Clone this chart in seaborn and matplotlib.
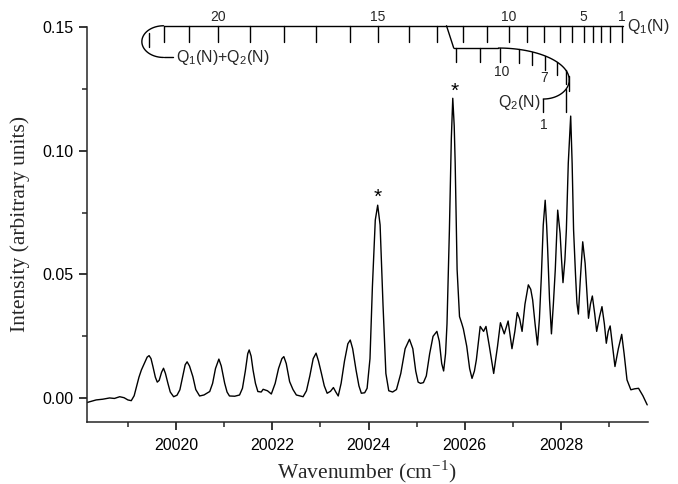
import numpy as np
import pandas as pd
import seaborn as sns
import matplotlib
matplotlib.use("Agg")
import matplotlib.pyplot as plt

# spectrum (wavenumber, intensity)
wavenumber = [
    20018.14, 20018.25, 20018.34, 20018.48, 20018.62, 20018.72, 20018.83, 20018.92,
    20019.00, 20019.07, 20019.13, 20019.18, 20019.23, 20019.28, 20019.34, 20019.40,
    20019.44, 20019.48, 20019.52, 20019.57, 20019.61, 20019.65, 20019.70, 20019.74,
    20019.78, 20019.83, 20019.88, 20019.95, 20020.02, 20020.08, 20020.14, 20020.19,
    20020.23, 20020.28, 20020.35, 20020.41, 20020.49, 20020.58, 20020.70, 20020.76,
    20020.82, 20020.89, 20020.94, 20021.01, 20021.06, 20021.11, 20021.22, 20021.32,
    20021.38, 20021.44, 20021.49, 20021.52, 20021.56, 20021.60, 20021.65, 20021.70,
    20021.77, 20021.81, 20021.84, 20021.90, 20021.98, 20022.06, 20022.13, 20022.20,
    20022.24, 20022.29, 20022.36, 20022.43, 20022.50, 20022.64, 20022.71, 20022.78,
    20022.85, 20022.91, 20022.96, 20023.02, 20023.08, 20023.14, 20023.21, 20023.27,
    20023.32, 20023.37, 20023.43, 20023.50, 20023.57, 20023.62, 20023.67, 20023.74,
    20023.80, 20023.85, 20023.92, 20023.97, 20024.03, 20024.08, 20024.14, 20024.19,
    20024.24, 20024.30, 20024.36, 20024.42, 20024.50, 20024.58, 20024.67, 20024.76,
    20024.85, 20024.92, 20024.98, 20025.03, 20025.08, 20025.14, 20025.20, 20025.27,
    20025.34, 20025.42, 20025.47, 20025.52, 20025.56, 20025.60, 20025.63, 20025.68,
    20025.72, 20025.75, 20025.78, 20025.80, 20025.84, 20025.89, 20025.94, 20025.97,
    20026.04, 20026.10, 20026.15, 20026.20, 20026.24, 20026.32, 20026.39, 20026.44,
    20026.51, 20026.60, 20026.68, 20026.74, 20026.82, 20026.90, 20026.98, 20027.04,
    20027.09, 20027.14, 20027.19, 20027.25, 20027.32, 20027.37, 20027.41, 20027.46,
    20027.51, 20027.55, 20027.59, 20027.63, 20027.67, 20027.70, 20027.72, 20027.76,
    20027.80, 20027.84, 20027.88, 20027.93, 20027.98, 20028.01, 20028.04, 20028.08,
    20028.11, 20028.15, 20028.20, 20028.23, 20028.26, 20028.30, 20028.33, 20028.36,
    20028.40, 20028.45, 20028.50, 20028.54, 20028.57, 20028.61, 20028.65, 20028.70,
    20028.74, 20028.80, 20028.85, 20028.90, 20028.94, 20028.98, 20029.02, 20029.07,
    20029.12, 20029.19, 20029.26, 20029.31, 20029.37, 20029.45, 20029.53, 20029.61,
    20029.70, 20029.79,
]
intensity = [
    -0.0018, -0.0012, -0.0007, -0.0004, 0.0001, -0.0001, 0.0006, 0.0002,
    -0.0007, -0.0010, 0.0010, 0.0047, 0.0085, 0.0114, 0.0140, 0.0166,
    0.0172, 0.0160, 0.0128, 0.0085, 0.0065, 0.0072, 0.0105, 0.0121,
    0.0100, 0.0061, 0.0025, 0.0006, 0.0012, 0.0034, 0.0090, 0.0135,
    0.0147, 0.0130, 0.0087, 0.0035, 0.0009, 0.0013, 0.0027, 0.0060,
    0.0120, 0.0158, 0.0130, 0.0061, 0.0025, 0.0009, 0.0008, 0.0013,
    0.0040, 0.0110, 0.0180, 0.0195, 0.0170, 0.0114, 0.0060, 0.0027,
    0.0025, 0.0036, 0.0034, 0.0030, 0.0017, 0.0060, 0.0120, 0.0160,
    0.0168, 0.0140, 0.0067, 0.0035, 0.0013, 0.0006, 0.0030, 0.0090,
    0.0160, 0.0182, 0.0150, 0.0101, 0.0050, 0.0020, 0.0028, 0.0043,
    0.0025, 0.0009, 0.0060, 0.0150, 0.0220, 0.0235, 0.0200, 0.0114,
    0.0050, 0.0020, 0.0022, 0.0040, 0.0160, 0.0450, 0.0720, 0.0780,
    0.0700, 0.0380, 0.0100, 0.0030, 0.0025, 0.0035, 0.0100, 0.0200,
    0.0238, 0.0200, 0.0110, 0.0065, 0.0060, 0.0063, 0.0090, 0.0180,
    0.0250, 0.0270, 0.0230, 0.0140, 0.0110, 0.0180, 0.0300, 0.0680,
    0.1050, 0.1212, 0.1100, 0.0950, 0.0520, 0.0330, 0.0300, 0.0280,
    0.0210, 0.0120, 0.0080, 0.0110, 0.0155, 0.0290, 0.0270, 0.0290,
    0.0210, 0.0100, 0.0210, 0.0305, 0.0260, 0.0312, 0.0200, 0.0270,
    0.0346, 0.0320, 0.0270, 0.0380, 0.0458, 0.0440, 0.0397, 0.0300,
    0.0215, 0.0320, 0.0490, 0.0700, 0.0800, 0.0700, 0.0610, 0.0400,
    0.0260, 0.0380, 0.0520, 0.0760, 0.0666, 0.0560, 0.0467, 0.0560,
    0.0680, 0.0950, 0.1140, 0.0950, 0.0680, 0.0500, 0.0384, 0.0340,
    0.0480, 0.0632, 0.0545, 0.0420, 0.0323, 0.0380, 0.0413, 0.0340,
    0.0270, 0.0330, 0.0370, 0.0300, 0.0222, 0.0270, 0.0292, 0.0210,
    0.0128, 0.0200, 0.0258, 0.0180, 0.0074, 0.0034, 0.0038, 0.0040,
    0.0010, -0.0027,
]

# starred peaks
star_x = [20024.20, 20025.78]
star_y = [0.0810, 0.1240]

# Q1(N) line positions, N = 1 .. 23
q1_n = list(range(1, 24))
q1_pos = [20029.26, 20029.01, 20028.83, 20028.66, 20028.47, 20028.22, 20027.97,
          20027.65, 20027.30, 20026.91, 20026.46, 20025.96, 20025.43, 20024.85,
          20024.19, 20023.61, 20022.91, 20022.25, 20021.53, 20020.88, 20020.26,
          20019.74, 20019.43]
q1_labels = {20: "20", 15: "15", 10: "10", 5: "5", 1: "1"}

# Q2(N) line positions, N = 12 .. 5 on the upper arm, N = 2, 1 on the lower arm
q2_upper_n = [12, 11, 10, 9, 8, 7, 6, 5]
q2_upper_pos = [20025.82, 20026.32, 20026.74, 20027.12, 20027.39, 20027.67,
                20027.91, 20028.10]
q2_lower_n = [2, 1]
q2_lower_pos = [20028.10, 20027.63]

df = pd.DataFrame({"wavenumber": wavenumber, "intensity": intensity})

sns.set_style("ticks")
plt.rcParams["font.family"] = ["Liberation Sans", "DejaVu Sans"]
plt.rcParams["axes.linewidth"] = 1.1

fig = plt.figure(figsize=(6.78, 4.84), dpi=100)
ax = fig.add_axes([0.1276, 0.1287, 0.8277, 0.8155])

sns.lineplot(data=df, x="wavenumber", y="intensity", color="black",
             linewidth=1.0, sort=False, estimator=None, ax=ax)

ax.set_xlim(20018.14, 20029.8)
ax.set_ylim(-0.0095, 0.15)
ax.set_xticks([20020, 20022, 20024, 20026, 20028])
ax.set_xticks(np.arange(20019, 20030, 2), minor=True)
ax.set_yticks([0.0, 0.05, 0.10, 0.15])
ax.set_yticks([0.025, 0.075, 0.125], minor=True)
ax.set_xticklabels(["20020", "20022", "20024", "20026", "20028"])
ax.set_yticklabels(["0.00", "0.05", "0.10", "0.15"])
ax.tick_params(which="major", direction="out", length=6, width=1.1,
               labelsize=11.5, colors="black")
ax.tick_params(which="minor", direction="out", length=3.5, width=1.1)
ax.tick_params(axis="x", which="major", pad=6)
sns.despine(ax=ax)

serif = ["Liberation Serif", "DejaVu Serif"]
ax.set_xlabel(r"Wavenumber (cm$^{\mathregular{-1}}$)", fontsize=15.5, family=serif)
ax.set_ylabel("Intensity (arbitrary units)", fontsize=15.5, family=serif)
ax.xaxis.set_label_coords(0.5, -0.092)
ax.yaxis.set_label_coords(-0.100, 0.5)

# asterisks on the two strong lines
for sx, sy in zip(star_x, star_y):
    ax.text(sx, sy, "*", ha="center", va="center", fontsize=15, color="black")

kw = dict(color="black", lw=1.0, clip_on=False)
top = 0.1505
tick1 = 0.0066

# Q1 line with the fold-back on the left
ax.plot([q1_pos[21], 20029.29], [top, top], **kw)
t = np.linspace(np.pi / 2, 3 * np.pi / 2, 60)
ax.plot(20019.74 + 0.45 * np.cos(t), 0.1441 + 0.0064 * np.sin(t), **kw)
ax.plot([20019.74, 20019.94], [0.1377, 0.1377], **kw)
for n, p in zip(q1_n, q1_pos):
    if n == 23:
        ax.plot([p, p], [0.1475, 0.1419], **kw)
    else:
        ax.plot([p, p], [top, top - tick1], **kw)
    if n in q1_labels:
        ax.text(p, top + 0.0006, q1_labels[n], ha="center", va="bottom", fontsize=10)
ax.text(20029.37, top - 0.0003, r"Q$_{\mathregular{1}}$(N)", ha="left", va="center",
        fontsize=11.5)
ax.text(20020.0, 0.1377, r"Q$_{\mathregular{1}}$(N)+Q$_{\mathregular{2}}$(N)",
        ha="left", va="center", fontsize=11.5)

# Q2 branch: slant, upper arc, lower arc
y2 = 0.1415
ax.plot([20025.62, 20025.77], [top, y2], **kw)
ax.plot([20025.77, 20026.70], [y2, y2], **kw)
t = np.linspace(np.pi / 2, 0, 60)
ux = 20026.70 + 1.47 * np.cos(t)
uy = 0.1286 + 0.0129 * np.sin(t)
ax.plot(ux, uy, **kw)
t = np.linspace(0, -np.pi / 2, 40)
lx = 20027.63 + 0.54 * np.cos(t)
ly = 0.1286 + 0.0077 * np.sin(t)
ax.plot(lx, ly, **kw)

for n, p in zip(q2_upper_n, q2_upper_pos):
    if p <= 20026.70:
        yy = y2
    else:
        yy = np.interp(p, ux, uy)
    ax.plot([p, p], [yy, yy - 0.0055], **kw)
ax.plot([20028.16, 20028.16], [0.1300, 0.1240], **kw)
for n, p in zip(q2_lower_n, q2_lower_pos):
    yy = np.interp(p, lx[::-1], ly[::-1])
    ax.plot([p, p], [yy, 0.1158], **kw)

ax.text(20026.76, 0.1318, "10", ha="center", va="center", fontsize=10)
ax.text(20027.65, 0.1294, "7", ha="center", va="center", fontsize=10)
ax.text(20027.65, 0.1103, "1", ha="center", va="center", fontsize=10)
ax.text(20027.58, 0.1195, r"Q$_{\mathregular{2}}$(N)", ha="right", va="center",
        fontsize=11.5)

fig.savefig("out.png", dpi=100)
